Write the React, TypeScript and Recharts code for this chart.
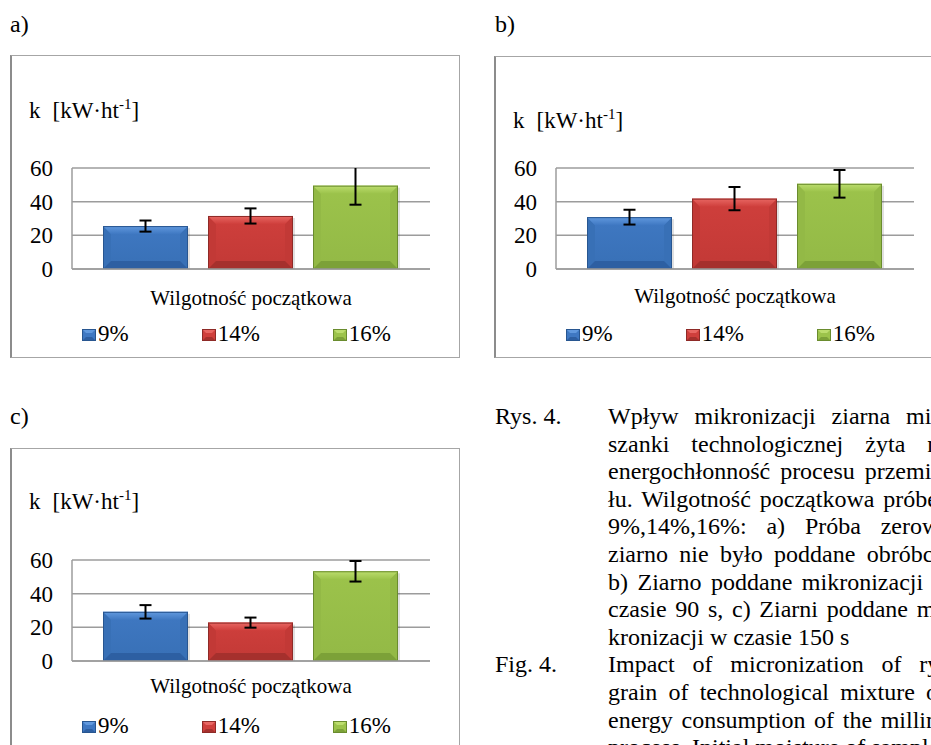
import React from 'react';
import { BarChart, Bar, XAxis, YAxis, CartesianGrid, ErrorBar, Legend, Label } from 'recharts';

const FONT = "'Liberation Serif', 'Times New Roman', Times, serif";

// ---------- data ----------
const categories = ['Wilgotność początkowa'];
const seriesNames = ['9%', '14%', '16%'];
const yTicks = [0, 20, 40, 60];
const yTitleMain = 'k';
const yTitleUnit = '[kW·ht';
const yTitleExp = '-1';
const yTitleEnd = ']';

const valuesA = [25.5, 31.5, 49.5];
const errorsA = [3.3, 4.5, 11.3];
const valuesB = [30.8, 41.8, 50.6];
const errorsB = [4.4, 6.9, 8.2];
const valuesC = [29.2, 22.8, 53.3];
const errorsC = [4.0, 3.0, 6.1];

const panelLetters = ['a)', 'b)', 'c)'];

const captionPlLabel = 'Rys. 4.';
const captionPl = [
  'Wpływ mikronizacji ziarna mie-',
  'szanki technologicznej żyta na',
  'energochłonność procesu przemia-',
  'łu. Wilgotność początkowa próbek',
  '9%,14%,16%: a) Próba zerowa',
  'ziarno nie było poddane obróbce,',
  'b) Ziarno poddane mikronizacji w',
  'czasie 90 s, c) Ziarni poddane mi-',
  'kronizacji w czasie 150 s',
];
const captionEnLabel = 'Fig. 4.';
const captionEn = [
  'Impact of micronization of rye',
  'grain of technological mixture on',
  'energy consumption of the milling',
  'process. Initial moisture of samples',
];

// ---------- styles ----------
const palette = [
  { main: '#3F78C2', top: '#6199DE', side: '#3870B6', bottom: '#2D5FA2', edge: '#285690' },
  { main: '#CF3F3C', top: '#E86763', side: '#C23936', bottom: '#A5302D', edge: '#8E2A27' },
  { main: '#9CC34B', top: '#BCDD6E', side: '#93B946', bottom: '#7CA138', edge: '#6A8C2E' },
];
const GRID = '#9c9c9c';

function buildRows(values: number[], errors: number[]) {
  return categories.map((name) => ({
    name,
    s0: values[0], s1: values[1], s2: values[2],
    e0: errors[0], e1: errors[1], e2: errors[2],
  }));
}

function makeBevel(ci: number) {
  const c = palette[ci];
  return (props: any) => {
    const { x, y, width: w, height: h } = props;
    if (!w || !h || h <= 0) return <g />;
    const b = Math.min(8, w / 2, h / 2);
    const id = `grad-${ci}-${Math.round(x)}-${Math.round(y)}`;
    const topPts = `${x},${y} ${x + w},${y} ${x + w - b},${y + b} ${x + b},${y + b}`;
    const botPts = `${x},${y + h} ${x + w},${y + h} ${x + w - b},${y + h - b} ${x + b},${y + h - b}`;
    const leftPts = `${x},${y} ${x + b},${y + b} ${x + b},${y + h - b} ${x},${y + h}`;
    const rightPts = `${x + w},${y} ${x + w - b},${y + b} ${x + w - b},${y + h - b} ${x + w},${y + h}`;
    return (
      <g>
        <defs>
          <linearGradient id={id} x1="0" y1="0" x2="0" y2="1">
            <stop offset="0" stopColor={c.main} />
            <stop offset="1" stopColor={c.side} />
          </linearGradient>
          <linearGradient id={id + 't'} x1="0" y1="0" x2="0" y2="1">
            <stop offset="0" stopColor={c.top} />
            <stop offset="1" stopColor={c.main} />
          </linearGradient>
        </defs>
        <rect x={x + 2} y={y + 2} width={w} height={h} fill="rgba(0,0,0,0.12)" />
        <rect x={x} y={y} width={w} height={h} fill={`url(#${id})`} />
        <polygon points={leftPts} fill={c.side} />
        <polygon points={rightPts} fill={c.side} />
        <polygon points={topPts} fill={`url(#${id}t)`} />
        <polygon points={botPts} fill={c.bottom} />
        <rect x={x + 0.5} y={y + 0.5} width={w - 1} height={h - 1} fill="none" stroke={c.edge} strokeWidth={1} />
      </g>
    );
  };
}

const LegendIcon = ({ ci }: { ci: number }) => {
  const c = palette[ci];
  return (
    <svg width={14} height={12} style={{ marginRight: 2 }}>
      <rect x={0} y={0} width={14} height={12} fill={c.main} />
      <polygon points="0,0 14,0 10,4 4,4" fill={c.top} />
      <polygon points="0,12 14,12 10,8 4,8" fill={c.bottom} />
      <rect x={0.5} y={0.5} width={13} height={11} fill="none" stroke={c.edge} strokeWidth={1} />
    </svg>
  );
};

const LegendContent = () => (
  <div
    style={{
      display: 'flex',
      alignItems: 'baseline',
      fontFamily: FONT,
      fontSize: 23,
      lineHeight: '26px',
      color: '#000',
      whiteSpace: 'nowrap',
    }}
  >
    {seriesNames.map((n, i) => (
      <span key={n} style={{ display: 'inline-flex', alignItems: 'baseline', marginRight: 73 }}>
        <LegendIcon ci={i} />
        {n}
      </span>
    ))}
  </div>
);

type PanelProps = {
  id: string;
  left: number;
  top: number;
  width: number;
  height: number;
  plotTop: number;
  values: number[];
  errors: number[];
  titleDy: number;
  xTickMargin: number;
};

const Panel = (p: PanelProps) => {
  const rows = buildRows(p.values, p.errors);
  const yAxisW = 62;
  const xAxisH = 40;
  const plotH = 101;
  const marginBottom = p.height - p.plotTop - plotH - xAxisH;
  const plotW = 358;
  const marginRight = p.width - yAxisW - plotW;
  const plotBottom = p.plotTop + plotH;
  const clipId = `eb-clip-${p.id}`;
  return (
    <>
      <svg width={0} height={0} style={{ position: 'absolute', left: 0, top: 0 }}>
        <defs>
          <clipPath id={clipId} clipPathUnits="userSpaceOnUse">
            <rect x={yAxisW} y={p.plotTop} width={plotW} height={plotH + 2} />
          </clipPath>
        </defs>
      </svg>
      <style>{`.panel-${p.id} .recharts-errorBar, .panel-${p.id} .recharts-errorBars { clip-path: url(#${clipId}); }`}</style>
      <div
        style={{
          position: 'absolute',
          left: p.left,
          top: p.top,
          width: p.width,
          height: p.height,
          borderTop: '1.5px solid #a6a6a6',
          borderRight: '1.5px solid #a6a6a6',
          borderBottom: '1.5px solid #a6a6a6',
          borderLeft: '2px solid #8c8c8c',
          boxSizing: 'border-box',
          background: '#fff',
        }}
      />
      <div className={`panel-${p.id}`} style={{ position: 'absolute', left: p.left, top: p.top }}>
        <BarChart
          width={p.width}
          height={p.height}
          data={rows}
          margin={{ top: p.plotTop, right: marginRight, bottom: marginBottom, left: 0 }}
          barCategoryGap={31}
          barGap={20}
        >
          <CartesianGrid horizontal vertical={false} stroke={GRID} strokeWidth={1.5} />
          <XAxis
            dataKey="name"
            height={xAxisH}
            tickLine={false}
            tickSize={0}
            tickMargin={p.xTickMargin}
            axisLine={{ stroke: GRID, strokeWidth: 1.5 }}
            tick={{ fill: '#000', fontSize: 21, fontFamily: FONT }}
          />
          <YAxis
            width={yAxisW}
            domain={[0, 60]}
            ticks={yTicks}
            allowDataOverflow
            tickLine={false}
            tickSize={0}
            tickMargin={19}
            axisLine={{ stroke: GRID, strokeWidth: 1.5 }}
            tick={{ fill: '#000', fontSize: 23, fontFamily: FONT }}
          >
            <Label
              content={(lp: any) => {
                const vb = lp.viewBox || { x: 0, y: p.plotTop, width: yAxisW };
                const tx = vb.x + vb.width - 43;
                const ty = vb.y + p.titleDy;
                return (
                  <text x={tx} y={ty} fontFamily={FONT} fontSize={23} fill="#000">
                    <tspan>{yTitleMain}</tspan>
                    <tspan dx={12}>{yTitleUnit}</tspan>
                    <tspan fontSize={15} dy={-9}>{yTitleExp}</tspan>
                    <tspan dy={9}>{yTitleEnd}</tspan>
                  </text>
                );
              }}
            />
          </YAxis>
          {seriesNames.map((n, i) => (
            <Bar key={n} dataKey={`s${i}`} name={n} fill={palette[i].main} shape={makeBevel(i)} isAnimationActive={false}>
              <ErrorBar dataKey={`e${i}`} width={6} strokeWidth={2} stroke="#000" direction="y" isAnimationActive={false} />
            </Bar>
          ))}
          <Legend
            layout="horizontal"
            verticalAlign="middle"
            align="center"
            content={LegendContent}
            wrapperStyle={{ left: yAxisW + 10, top: plotBottom + 52, width: 'auto', height: 'auto' }}
          />
        </BarChart>
      </div>
    </>
  );
};

const textBase: React.CSSProperties = {
  position: 'absolute',
  fontFamily: FONT,
  fontSize: 24,
  lineHeight: '27.6px',
  color: '#000',
  whiteSpace: 'nowrap',
};

export default function App() {
  const capTop = 403;
  const lh = 27.6;
  const lastEn = captionEn.length - 1;
  return (
    <div
      style={{
        position: 'absolute',
        left: 0,
        top: 0,
        width: 931,
        height: 745,
        overflow: 'hidden',
        background: '#fff',
      }}
    >
      <div style={{ ...textBase, left: 10, top: 11 }}>{panelLetters[0]}</div>
      <div style={{ ...textBase, left: 495, top: 11 }}>{panelLetters[1]}</div>
      <div style={{ ...textBase, left: 10, top: 403 }}>{panelLetters[2]}</div>

      <Panel id="a" left={10} top={55} width={450} height={303}
        plotTop={113} values={valuesA} errors={errorsA} titleDy={-50} xTickMargin={21} />
      <Panel id="b" left={494} top={56} width={460} height={302}
        plotTop={112} values={valuesB} errors={errorsB} titleDy={-40} xTickMargin={19} />
      <Panel id="c" left={10} top={448} width={450} height={303}
        plotTop={112} values={valuesC} errors={errorsC} titleDy={-51} xTickMargin={17} />

      <div style={{ ...textBase, left: 495, top: capTop }}>{captionPlLabel}</div>
      <div style={{ ...textBase, left: 495, top: capTop + lh * captionPl.length }}>{captionEnLabel}</div>
      <div style={{ position: 'absolute', left: 608, top: capTop, width: 342, fontFamily: FONT, fontSize: 24, lineHeight: '27.6px', color: '#000' }}>
        {captionPl.map((l, i) => (
          <div key={'pl' + i} style={{ textAlign: i === captionPl.length - 1 ? 'left' : 'justify', textAlignLast: i === captionPl.length - 1 ? 'left' : 'justify', whiteSpace: 'normal' }}>
            {l}
          </div>
        ))}
        {captionEn.map((l, i) => (
          <div
            key={'en' + i}
            style={
              i === lastEn
                ? { textAlign: 'left', whiteSpace: 'nowrap' }
                : { textAlign: 'justify', textAlignLast: 'justify', whiteSpace: 'normal' }
            }
          >
            {l}
          </div>
        ))}
      </div>
    </div>
  );
}
